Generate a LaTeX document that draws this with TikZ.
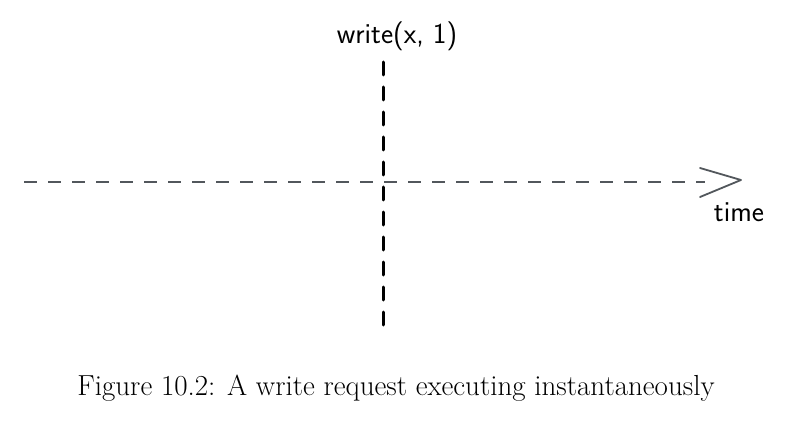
\documentclass[tikz,border=0pt]{standalone}
\usepackage{fontspec}
\usepackage{tikz}
\usetikzlibrary{arrows.meta}
\definecolor{axisgray}{HTML}{52575C}
\tikzset{
  timeline/.style={axisgray, line width=1.8pt, dash pattern=on 13pt off 11pt},
  eventline/.style={black, line width=3pt, dash pattern=on 13pt off 12pt, line cap=round},
  hand/.style={font=\sffamily\fontsize{29}{32}\selectfont, inner sep=0pt},
}
\begin{document}
\begin{tikzpicture}[x=1pt, y=-1pt]
        \useasboundingbox (0,0) rectangle (801,425);
        % time axis
        \coordinate (tstart) at (24,182);
        \coordinate (tend) at (741,180);
        \draw [timeline] (tstart) -- (705,182);
        \draw [axisgray, line width=1.8pt, line cap=round, line join=round] (700,168) -- (tend) -- (700,197);
        \node [hand] (timelbl) at (739,212) {time};
        % the write
        \coordinate (wtop) at (383,62);
        \coordinate (wbot) at (383,328);
        \draw [eventline] (wtop) -- (wbot);
        \node [hand] (writelbl) at (397,36) {write(x, 1)};
        % caption
        \node [font=\fontsize{29}{34}\selectfont, inner sep=0pt] (caption) at (396,388) {Figure 10.2: A write request executing instantaneously};
\end{tikzpicture}
\end{document}
